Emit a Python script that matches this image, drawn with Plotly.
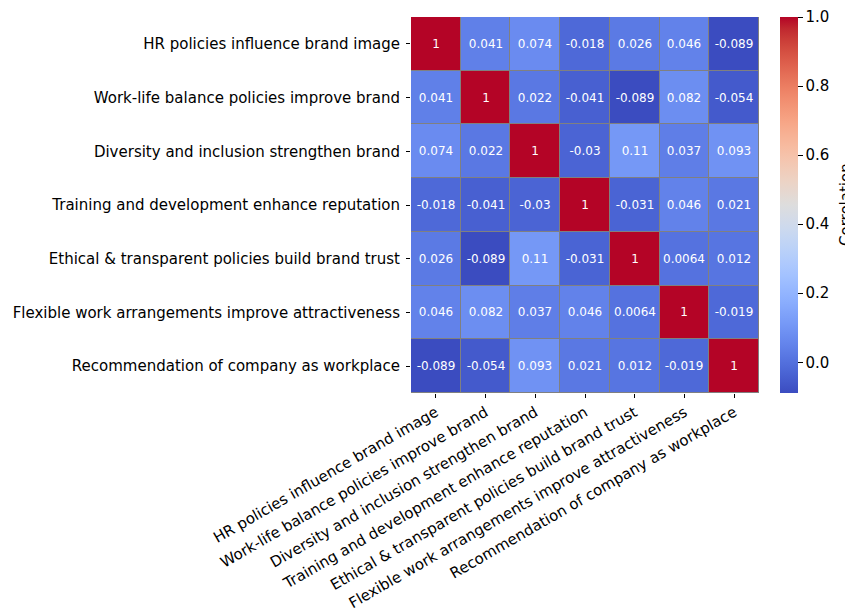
import plotly.graph_objects as go

# Survey items (row/column order of the correlation matrix)
labels = [
    "HR policies influence brand image",
    "Work-life balance policies improve brand",
    "Diversity and inclusion strengthen brand",
    "Training and development enhance reputation",
    "Ethical & transparent policies build brand trust",
    "Flexible work arrangements improve attractiveness",
    "Recommendation of company as workplace",
]

# Pairwise correlation coefficients
corr = [
    [1, 0.041, 0.074, -0.018, 0.026, 0.046, -0.089],
    [0.041, 1, 0.022, -0.041, -0.089, 0.082, -0.054],
    [0.074, 0.022, 1, -0.03, 0.11, 0.037, 0.093],
    [-0.018, -0.041, -0.03, 1, -0.031, 0.046, 0.021],
    [0.026, -0.089, 0.11, -0.031, 1, 0.0064, 0.012],
    [0.046, 0.082, 0.037, 0.046, 0.0064, 1, -0.019],
    [-0.089, -0.054, 0.093, 0.021, 0.012, -0.019, 1],
]

cbar_ticks = [0.0, 0.2, 0.4, 0.6, 0.8, 1.0]

# Diverging cool-warm palette
coolwarm_rgb = [
    (59, 76, 192), (68, 90, 204), (77, 104, 215), (87, 117, 225),
    (98, 130, 234), (108, 142, 241), (119, 154, 247), (130, 165, 251),
    (141, 176, 254), (152, 185, 255), (163, 194, 255), (174, 201, 253),
    (184, 208, 249), (194, 213, 244), (204, 217, 238), (213, 219, 230),
    (221, 221, 221), (229, 216, 209), (236, 211, 197), (241, 204, 185),
    (245, 196, 173), (247, 187, 160), (247, 177, 148), (247, 166, 135),
    (244, 154, 123), (241, 141, 111), (236, 127, 99), (229, 112, 88),
    (222, 96, 77), (213, 80, 66), (203, 62, 56), (192, 40, 47),
    (180, 4, 38),
]
n = len(coolwarm_rgb) - 1
colorscale = [[i / n, "rgb(%d,%d,%d)" % c] for i, c in enumerate(coolwarm_rgb)]

zmin = min(min(r) for r in corr)
zmax = max(max(r) for r in corr)

text = [[f"{v:.2g}" for v in row] for row in corr]

FONT = "DejaVu Sans"
LABEL_SIZE = 15
W, H = 845, 608
L, R, T, B = 411, 86, 17, 215
plot_w = W - L - R

fig = go.Figure(
    go.Heatmap(
        z=corr,
        x=labels,
        y=labels,
        text=text,
        texttemplate="%{text}",
        textfont=dict(family=FONT, size=12, color="white"),
        colorscale=colorscale,
        zmin=zmin,
        zmax=zmax,
        xgap=1,
        ygap=1,
        hoverinfo="skip",
        colorbar=dict(
            x=(780.5 - L) / plot_w,
            xanchor="left",
            xpad=0,
            y=0.5,
            yanchor="middle",
            len=1,
            lenmode="fraction",
            ypad=0,
            thickness=18,
            thicknessmode="pixels",
            outlinewidth=0,
            tickvals=cbar_ticks,
            ticktext=[f"{v:.1f}" for v in cbar_ticks],
            ticks="outside",
            ticklen=5,
            tickwidth=0.8,
            tickcolor="black",
            tickfont=dict(family=FONT, size=LABEL_SIZE, color="black"),
        ),
    )
)

fig.add_annotation(
    text="Correlation",
    xref="paper", yref="paper",
    x=(846 - L) / plot_w, y=0.5,
    xanchor="center", yanchor="middle",
    textangle=-90,
    showarrow=False,
    font=dict(family=FONT, size=LABEL_SIZE, color="black"),
)

fig.update_xaxes(
    tickangle=-30,
    ticks="outside",
    ticklen=4,
    tickwidth=0.8,
    tickcolor="black",
    tickfont=dict(family=FONT, size=LABEL_SIZE, color="black"),
    showgrid=False,
    zeroline=False,
)
fig.update_yaxes(
    autorange="reversed",
    ticks="outside",
    ticklen=4,
    tickwidth=0.8,
    tickcolor="black",
    tickfont=dict(family=FONT, size=LABEL_SIZE, color="black"),
    ticklabelstandoff=3,
    showgrid=False,
    zeroline=False,
)

fig.update_layout(
    width=W,
    height=H,
    margin=dict(l=L, r=R, t=T, b=B, autoexpand=False),
    plot_bgcolor="gray",
    paper_bgcolor="white",
    font=dict(family=FONT, color="black"),
)

fig.write_html("out.html")
